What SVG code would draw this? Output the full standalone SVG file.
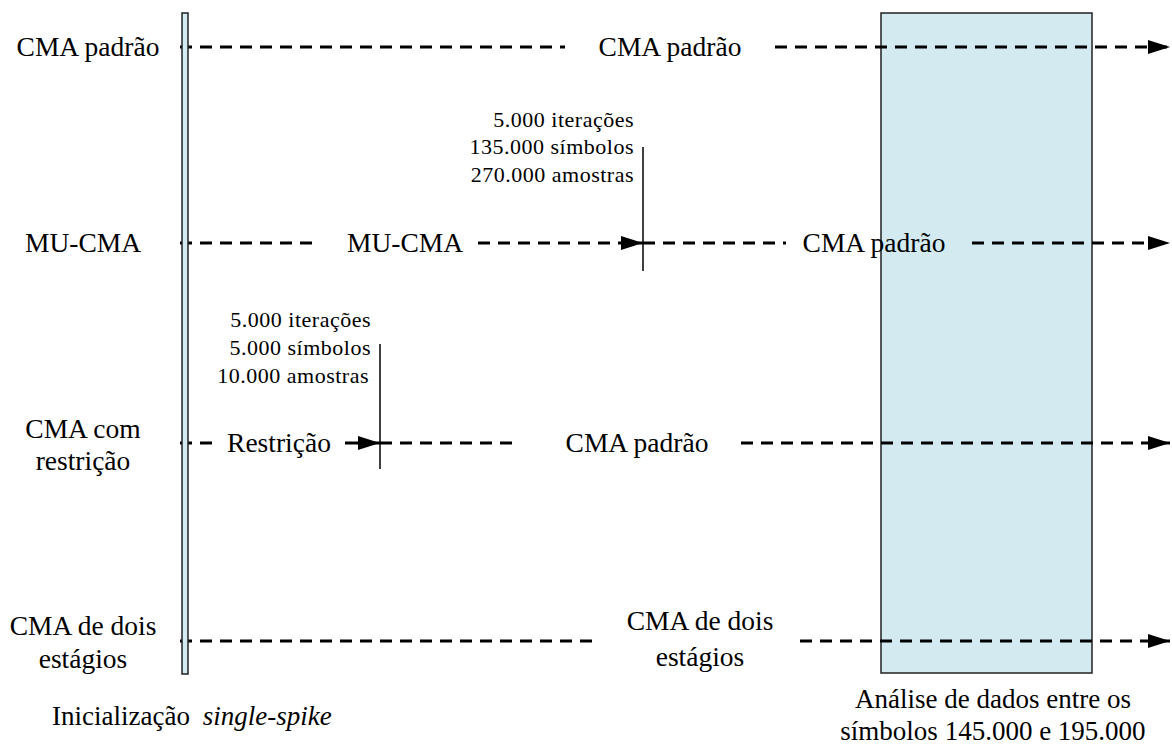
<svg xmlns="http://www.w3.org/2000/svg" width="1172" height="744" viewBox="0 0 1172 744">
<defs>
<marker id="ah" viewBox="0 0 22 14" refX="22" refY="7" markerWidth="22" markerHeight="14" markerUnits="userSpaceOnUse" orient="auto">
<path d="M0,0 L22,7 L0,14 Z" fill="#000"/>
</marker>
</defs>
<style>
.lg{font-size:27.5px}
.sm{font-size:22px;letter-spacing:0.5px}
.cap{font-size:27px}
.d{stroke:#000;stroke-width:3;stroke-dasharray:12 8;fill:none}
.s{stroke:#000;stroke-width:3;fill:none}
.v{stroke:#000;stroke-width:1.5}
.blue{fill:#d3eaf0;stroke:#222;stroke-width:1.5}
</style>
<rect id="analysis-box" class="blue" x="881" y="13" width="211" height="660"/>
<g id="connectors">
<line class="d" x1="180" y1="47" x2="565" y2="47"/>
<line class="d" x1="775" y1="47" x2="1170" y2="47" marker-end="url(#ah)"/>
<line class="d" x1="180" y1="243" x2="316" y2="243"/>
<line class="d" x1="478" y1="243" x2="643" y2="243" marker-end="url(#ah)"/>
<line class="d" x1="643" y1="243" x2="786" y2="243"/>
<line class="d" x1="972" y1="243" x2="1170" y2="243" marker-end="url(#ah)"/>
<line class="v" x1="643" y1="147" x2="643" y2="271"/>
<line class="d" x1="180" y1="443" x2="217" y2="443"/>
<line class="s" x1="345" y1="443" x2="380" y2="443" marker-end="url(#ah)"/>
<line class="d" x1="380" y1="443" x2="514" y2="443"/>
<line class="d" x1="741" y1="443" x2="1170" y2="443" marker-end="url(#ah)"/>
<line class="v" x1="380" y1="344" x2="380" y2="469"/>
<line class="d" x1="180" y1="641" x2="596" y2="641"/>
<line class="d" x1="800" y1="641" x2="1170" y2="641" marker-end="url(#ah)"/>
</g>
<rect id="init-bar" class="blue" x="182" y="13" width="6" height="661"/>
<g font-family="'Liberation Serif', 'DejaVu Serif', 'Times New Roman', serif" fill="#000">
<g id="row-cma">
<text class="lg" x="88" y="56" text-anchor="middle">CMA padrão</text>
<text class="lg" x="670" y="56" text-anchor="middle">CMA padrão</text>
</g>
<g id="row-mucma">
<text class="lg" x="83" y="252" text-anchor="middle">MU-CMA</text>
<text class="lg" x="405" y="252" text-anchor="middle">MU-CMA</text>
<text class="lg" x="874" y="252" text-anchor="middle">CMA padrão</text>
<text class="sm" x="634" y="127" text-anchor="end">5.000 iterações</text>
<text class="sm" x="634" y="154" text-anchor="end">135.000 símbolos</text>
<text class="sm" x="634" y="182" text-anchor="end">270.000 amostras</text>
</g>
<g id="row-restr">
<text class="lg" x="83" y="438" text-anchor="middle">CMA com</text>
<text class="lg" x="83" y="470" text-anchor="middle">restrição</text>
<text class="lg" x="279" y="452" text-anchor="middle">Restrição</text>
<text class="lg" x="637" y="452" text-anchor="middle">CMA padrão</text>
<text class="sm" x="371" y="327" text-anchor="end">5.000 iterações</text>
<text class="sm" x="371" y="355" text-anchor="end">5.000 símbolos</text>
<text class="sm" x="369" y="383" text-anchor="end">10.000 amostras</text>
</g>
<g id="row-two">
<text class="lg" x="83" y="635" text-anchor="middle">CMA de dois</text>
<text class="lg" x="83" y="668" text-anchor="middle">estágios</text>
<text class="lg" x="700" y="630" text-anchor="middle">CMA de dois</text>
<text class="lg" x="700" y="666" text-anchor="middle">estágios</text>
</g>
<g id="captions">
<text class="cap" x="52" y="725">Inicialização <tspan font-style="italic" dx="6">single-spike</tspan></text>
<text class="cap" x="993" y="708" text-anchor="middle">Análise de dados entre os</text>
<text class="cap" x="993" y="740" text-anchor="middle">símbolos  145.000 e 195.000</text>
</g>
</g>
</svg>
